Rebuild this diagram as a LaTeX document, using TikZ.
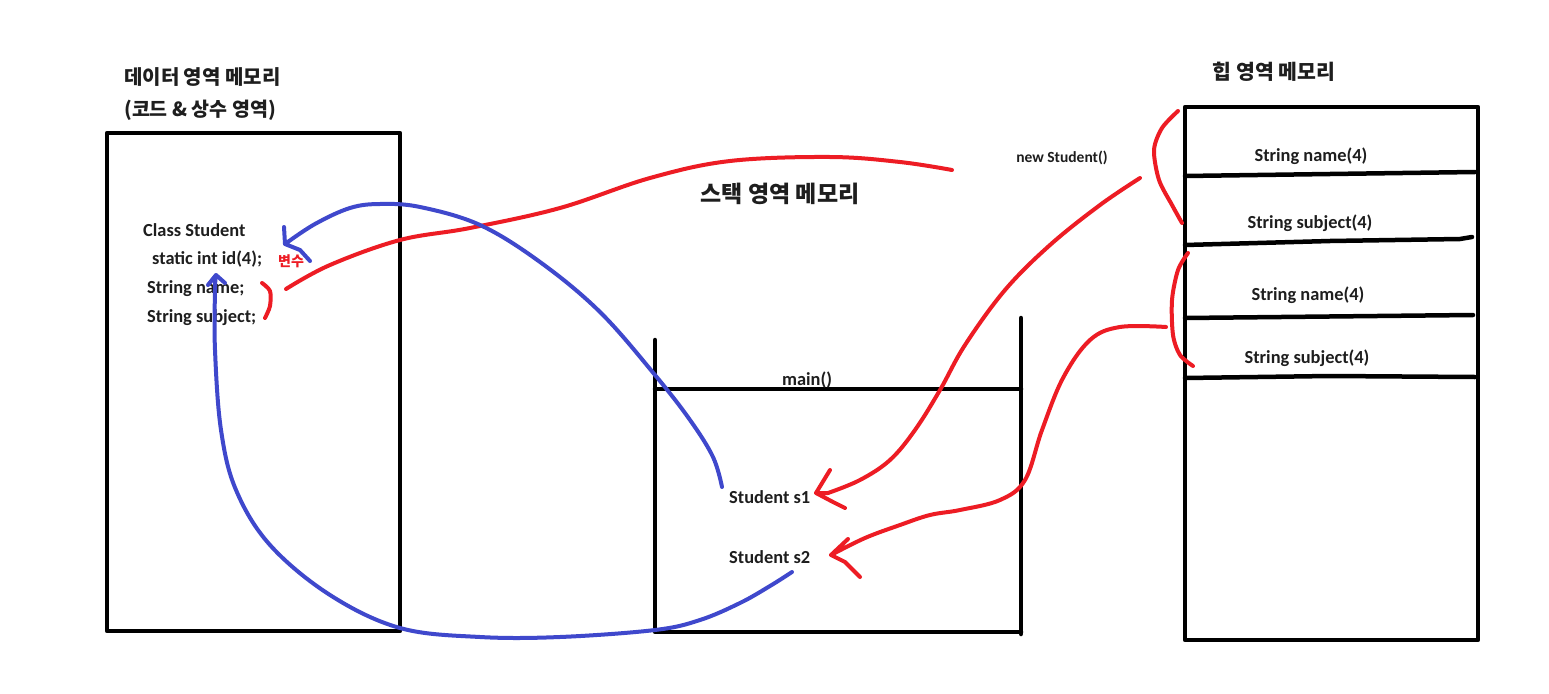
\documentclass[tikz,border=0pt]{standalone}
\usepackage{fontspec}
\setmainfont{Carlito}
\newfontfamily\kr{Noto Sans CJK KR}
\definecolor{pred}{RGB}{237,28,36}
\definecolor{pblue}{RGB}{63,72,204}
\definecolor{txt}{RGB}{30,30,30}
\begin{document}
\begin{tikzpicture}[x=1pt,y=-1pt,
  box/.style={line width=4.5pt,line cap=round,line join=round},
  lat/.style={font=\fontsize{18.4}{20}\selectfont\bfseries,text=txt,inner sep=0pt},
  krt/.style={font=\kr\fontsize{20}{22}\selectfont\bfseries,text=txt,inner sep=0pt},
  redpen/.style={draw=pred,line width=4pt,line cap=round,line join=round},
  bluepen/.style={draw=pblue,line width=4pt,line cap=round,line join=round}]
\useasboundingbox[fill=white] (0,0) rectangle (1549,693);

% ---- data area ----
\node[krt,anchor=west] (dtitle) at (124,77) {데이터 영역 메모리};
\node[krt,anchor=west,font=\kr\fontsize{19.5}{22}\selectfont\bfseries] (dsub) at (124,110) {(코드 \& 상수 영역)};
\draw[box] (107,133) rectangle (400,631);
\node[lat,anchor=west] (cls) at (143,230) {Class Student};
\node[lat,anchor=west] (sid) at (152,259) {static int id(4);};
\node[lat,anchor=west] (sname) at (147,289) {String name;};
\node[lat,anchor=west] (ssub) at (147,318) {String subject;};
\node[font=\kr\fontsize{14}{16}\selectfont\bfseries,text=pred,inner sep=0pt,anchor=west] (var) at (278,261) {변수};

% ---- stack area ----
\node[krt,font=\kr\fontsize{23}{26}\selectfont\bfseries] (stitle) at (780,194) {스택 영역 메모리};
\draw[box] (655,340) -- (655,632) -- (1021,632);
\draw[box] (1021,318) -- (1021,634);
\draw[box] (655,389) -- (1021,389);
\node[lat] (main) at (807,380) {main()};
\node[lat,anchor=west] (s1) at (729,497) {Student s1};
\node[lat,anchor=west] (s2) at (729,557) {Student s2};

% ---- heap area ----
\node[krt,font=\kr\fontsize{20.5}{23}\selectfont\bfseries] (htitle) at (1274,72) {힙 영역 메모리};
\node[lat,font=\fontsize{15.5}{17}\selectfont\bfseries] (newst) at (1062,158) {new Student()};
\draw[box] (1185,107) rectangle (1478,640);
\draw[box] (1185,176) -- (1330,174) -- (1475,172);
\draw[box] (1185,245) -- (1330,241) -- (1460,239) -- (1472,237);
\draw[box] (1185,318) -- (1473,315);
\draw[box] (1185,378) -- (1330,376) -- (1475,377);
\node[lat] (h1) at (1311,156) {String name(4)};
\node[lat] (h2) at (1310,223) {String subject(4)};
\node[lat] (h3) at (1308,295) {String name(4)};
\node[lat] (h4) at (1307,358) {String subject(4)};

% ---- connector end points ----
\coordinate (r1s) at (286,289);
\coordinate (r1e) at (952,170);
\coordinate (bka) at (262,283);
\coordinate (bkb) at (265,318);
\coordinate (hb1a) at (1178,111);
\coordinate (hb1b) at (1182,223);
\coordinate (hb2a) at (1188,253);
\coordinate (hb2b) at (1193,366);
\coordinate (r2s) at (1140,178);
\coordinate (r2t) at (816,493);
\coordinate (r3s) at (1166,327);
\coordinate (r3t) at (831,555);
\coordinate (b1s) at (722,487);
\coordinate (b1t) at (285,244);
\coordinate (b2s) at (792,572);
\coordinate (b2t) at (216,275);

% ---- red strokes ----
\draw[redpen] plot[smooth,tension=0.6] coordinates {(r1s) (330,265) (400,240) (470,228) (560,208) (650,178) (730,161) (830,157) (900,162) (r1e)};
\draw[redpen] plot[smooth] coordinates {(bka) (270,291) (270,306) (bkb)};
\draw[redpen] plot[smooth] coordinates {(hb1a) (1162,128) (1154,150) (1159,180) (1172,205) (hb1b)};
\draw[redpen] plot[smooth] coordinates {(hb2a) (1178,270) (1172,300) (1173,335) (1180,355) (hb2b)};
\draw[redpen] plot[smooth,tension=0.6] coordinates {(r2s) (1100,205) (1050,245) (1005,290) (965,345) (940,390) (915,430) (890,460) (860,480) (828,493)}
  (828,493) -- (r2t) (r2t) -- (830,470) (r2t) -- (833,502) -- (845,508);
\draw[redpen] plot[smooth,tension=0.6] coordinates {(r3s) (1120,327) (1090,340) (1063,378) (1042,430) (1025,480) (1000,500) (960,510) (930,515) (900,525) (865,538) (r3t)}
  (r3t) -- (848,539) (r3t) -- (845,562) -- (860,577);

% ---- blue strokes ----
\draw[bluepen] plot[smooth,tension=0.6] coordinates {(b1s) (713,457) (690,420) (655,375) (600,312) (540,262) (480,225) (420,207) (380,204) (350,208) (315,224) (b1t)}
  (b1t) -- (284,227) (b1t) -- (300,250) -- (310,261);
\draw[bluepen] plot[smooth,tension=0.6] coordinates {(b2s) (770,586) (740,603) (700,620) (655,630) (560,637) (480,637) (400,628) (330,595) (270,545) (236,490) (221,430) (215,350) (215,290) (b2t)}
  (b2t) -- (208,285) (b2t) -- (225,283);
\end{tikzpicture}
\end{document}
